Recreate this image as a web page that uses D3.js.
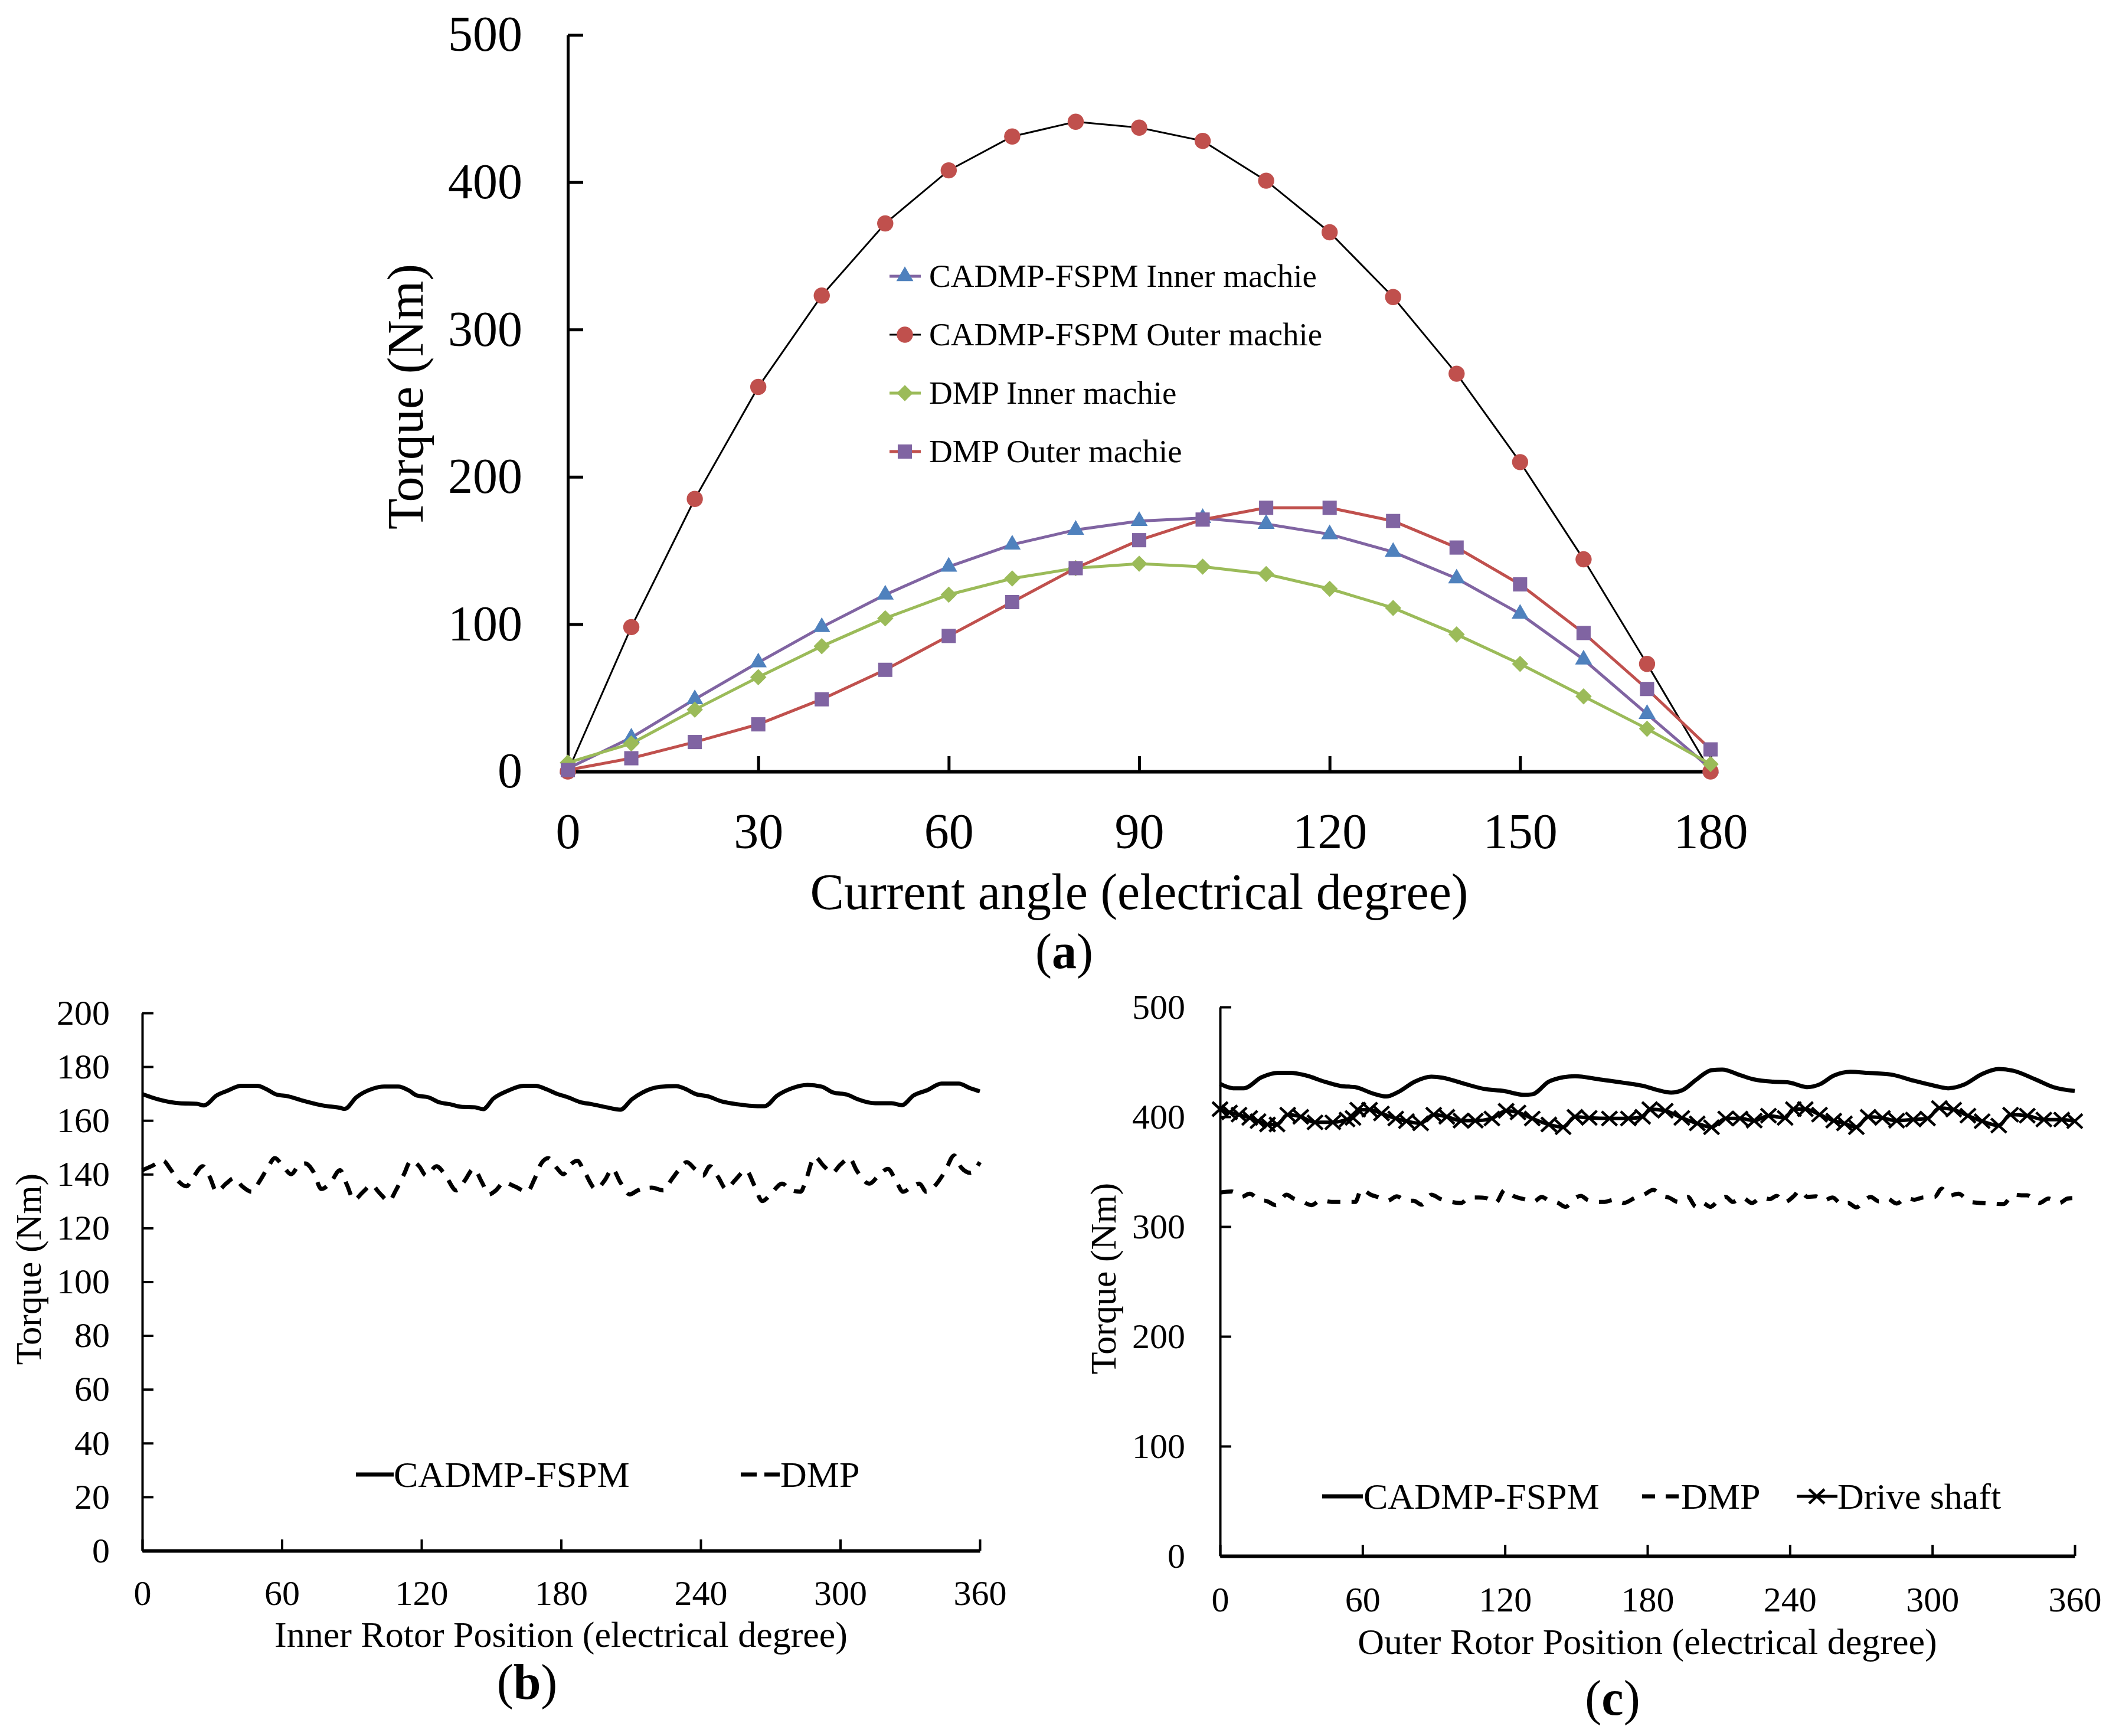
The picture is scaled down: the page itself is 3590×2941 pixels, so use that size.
<!DOCTYPE html>
<html>
<head>
<meta charset="utf-8">
<script src="https://cdn.jsdelivr.net/npm/d3@7/dist/d3.min.js"></script>
<style>
  body { margin: 0; background: #fff; }
  svg, svg text { font-family: "Liberation Serif", "Times New Roman", Times, "DejaVu Serif", serif; fill: #000; }
</style>
</head>
<body>
<div id="chart"></div>
<script>
//Panel (a) data: torque vs current angle
var angleA = [0, 10, 20, 30, 40, 50, 60, 70, 80, 90, 100, 110, 120, 130, 140, 150, 160, 170, 180];
var cadmpInnerA = [2, 23, 49, 74, 98, 120, 139, 154, 164, 170, 172, 168, 161, 149, 131, 107, 76, 39, 2];
var cadmpOuterA = [0, 98, 185, 261, 323, 372, 408, 431, 441, 437, 428, 401, 366, 322, 270, 210, 144, 73, 0];
var dmpInnerA = [6, 19, 42, 64, 85, 104, 120, 131, 138, 141, 139, 134, 124, 111, 93, 73, 51, 29, 5];
var dmpOuterA = [1, 9, 20, 32, 49, 69, 92, 115, 138, 157, 171, 179, 179, 170, 152, 127, 94, 56, 15];
var xTicksA = [0, 30, 60, 90, 120, 150, 180];
var yTicksA = [0, 100, 200, 300, 400, 500];
var legendA = ["CADMP-FSPM Inner machie", "CADMP-FSPM Outer machie", "DMP Inner machie", "DMP Outer machie"];

//Panel (b) data: inner rotor torque
var cadmpAngleB = [0, 7, 16, 23.5, 26.5, 32, 36.5, 42.5, 49.5, 53, 57.5, 62.5, 68.5, 78, 85, 87, 92, 99, 104, 110,
  114.5, 118, 123, 127.5, 132.5, 137, 143, 146.5, 151, 157, 164, 169, 174, 178, 183, 188, 193.5, 199.5, 205.5, 210.5,
  215, 222.5, 229.5, 233, 238, 243, 249, 256, 264.5, 267.5, 273, 279, 286, 292, 297, 303, 307.5, 315, 322, 326.5,
  331.5, 337.5, 343.5, 351, 355.5, 360];
var cadmpTorqueB = [169.8, 167.8, 166.4, 166.2, 165.6, 169.3, 171, 172.9, 172.9, 171.8, 169.7, 169, 167.5, 165.5, 164.7, 164.3, 168.6, 171.8, 172.6, 172.6,
  171.2, 169.3, 168.6, 166.8, 166, 165.1, 164.9, 164.2, 168.2, 171, 172.9, 172.9, 171.5, 170, 168.6, 166.9, 166, 164.9, 164, 167.9,
  170.4, 172.5, 172.8, 171.9, 169.8, 169, 167.1, 166, 165.3, 165.3, 169.3, 171.9, 173.2, 172.6, 170.4, 169.6, 167.9, 166.4, 166.4, 165.7,
  169.3, 171.3, 173.7, 173.7, 172.1, 170.8];
var dmpAngleB = [0, 4, 9, 12, 16, 19, 22, 26, 29, 32, 36, 39.5, 43, 47, 50.5, 54, 57, 60.5, 64, 67, 70, 73.5, 77, 81, 85,
  88, 91, 95, 98.5, 102, 106, 109, 112.5, 115.5, 119, 122, 126.5, 130, 135, 138.5, 142.5, 146, 149, 152, 155.5, 160,
  165.5, 168.5, 171.5, 174.5, 178, 181, 184, 187, 190, 195, 199, 202, 205.5, 209.5, 213, 219, 224, 227.5, 231, 234,
  237.5, 241, 244, 247.5, 251, 255, 259.5, 263, 266.5, 270.5, 275, 279, 283, 285.5, 289, 293, 296.5, 300, 304, 307,
  312.5, 317, 320.5, 324, 327, 331, 334, 337, 341, 345, 349, 352, 356, 360];
var dmpTorqueB = [141.5, 143, 145, 142, 137, 135.5, 139, 143, 139, 133.5, 136.5, 138.5, 135.5, 133.5, 137.5, 142.5, 146, 143, 140, 143, 144, 141, 134.5, 137, 141.5,
  136, 130.5, 133.5, 136, 133, 130, 134, 140, 145, 143, 139.5, 143, 140, 134, 137.5, 142, 137, 132.5, 134, 137, 135.5,
  133.5, 138, 144, 146, 142.5, 140, 143.5, 145, 141, 134.5, 138, 142, 137, 132.5, 134, 135, 134, 138, 142, 144.5,
  142, 139.5, 143, 139, 134.5, 138, 141.5, 136, 130, 133, 136.5, 134, 133.5, 138.5, 146.5, 143, 140.5, 143.5, 146, 141.5,
  136.5, 140, 142, 137.5, 133.5, 135.5, 136.5, 133.5, 136, 141, 147, 142.5, 140.5, 144.5];
var xTicksB = [0, 60, 120, 180, 240, 300, 360];
var yTicksB = [0, 20, 40, 60, 80, 100, 120, 140, 160, 180, 200];
var legendB = ["CADMP-FSPM", "DMP"];

//Panel (c) data: outer rotor torque
var cadmpAngleC = [0, 5.5, 10, 17.5, 24.5, 29.5, 36.5, 44, 51, 57, 64, 70, 75, 82, 89, 94, 101.5, 111, 119.5, 128,
  131.5, 138.5, 144.5, 149.5, 160, 170, 178.5, 184, 190, 194.5, 201, 207, 211.5, 219, 225, 233, 239, 247.5, 252.5,
  258.5, 265.5, 273, 282.5, 292, 300.5, 306.5, 313.5, 321, 328, 334, 343.5, 351, 360];
var cadmpTorqueC = [430, 426, 426, 436, 440, 440, 437.5, 432, 428, 427, 421.5, 418.5, 422.5, 432, 436.5, 435.5, 431, 425.5, 423.5, 420,
  420.5, 432, 436, 437, 434, 431, 428, 424.5, 422, 424, 434.5, 442.5, 443, 438, 434, 432, 431.5, 427, 429.5,
  437.5, 441, 440, 438.5, 433, 428.5, 426, 429.5, 439, 443.5, 442, 434, 427, 423.5];
var dmpAngleC = [0, 5, 9, 12.5, 16, 20, 23.5, 28, 31, 34.5, 38.5, 42.5, 47, 52, 57, 59.5, 63.5, 67, 70.5, 74.5, 78.5,
  81.5, 85, 89, 93, 97.5, 101.5, 105, 109, 112, 116, 120, 123.5, 128, 132, 135.5, 139, 142, 145.5, 149.5, 152, 155,
  159, 162, 166, 170, 175, 178.5, 182.5, 186, 189, 193, 197, 200.5, 203, 206.5, 210.5, 213, 216, 220, 224, 228,
  231.5, 234.5, 237.5, 242, 244, 247.5, 251, 254, 258, 262, 264.5, 268, 271.5, 274, 277.5, 281, 285, 289, 292.5,
  296, 301, 304, 307, 311, 316, 320.5, 325, 330, 334, 337.5, 340, 345, 349, 353.5, 357, 360];
var dmpTorqueC = [331, 332, 327, 330, 325, 323, 319.5, 329, 325.5, 323, 319.5, 324, 322.5, 322.5, 322.5, 334, 329, 326.5, 323.5, 327.5, 323.5,
  323.5, 320, 329, 325, 322.5, 321.5, 326.5, 326.5, 326, 321.5, 333.5, 328, 325, 322.5, 327, 323, 322, 318, 326, 328, 324,
  322.5, 322.5, 324.5, 321.5, 326.5, 329, 333.5, 328, 326.5, 322.5, 327, 318, 322, 318, 325, 327, 322.5, 326.5, 321.5, 326.5,
  325, 328, 322, 328.5, 333, 327, 327.5, 323.5, 326.5, 320, 321.5, 317.5, 324, 327, 323, 325.5, 321, 326, 324.5,
  326.5, 327, 334.5, 328, 330, 322.5, 321.5, 321, 320.5, 329, 328.5, 328.5, 321.5, 325.5, 321.5, 325.5, 326];
var shaftAngleC = [0, 4, 8, 12.5, 16, 20, 24, 28.5, 34, 40, 47.5, 53.5, 56, 58, 63, 68, 74, 78.5, 84.5, 90, 95.5,
  101.5, 107.5, 114.5, 120.5, 125.5, 131.5, 138.5, 144.5, 149.5, 155.5, 164, 172, 178, 181, 187.5, 194.5, 201, 207,
  213, 219, 225, 231, 238, 241.5, 246.5, 252.5, 258.5, 263, 268, 273, 279, 285, 292, 298, 303, 309, 315, 321, 328,
  333, 340, 347, 354.5, 360];
var shaftTorqueC = [407, 404, 402, 399, 396, 393, 393, 402, 400, 395, 395, 397.5, 399, 406.5, 406.5, 403, 398.5, 396, 394, 402, 400,
  396.5, 396.5, 398.5, 405.5, 404, 398.5, 393, 390.5, 400, 399, 398.5, 398.5, 400, 407, 405.5, 399, 394, 390.5,
  398.5, 398.5, 396.5, 401, 399, 407, 407, 402, 396.5, 394, 390.5, 400, 399, 396.5, 397.5, 398.5, 408, 406.5, 401, 396, 392,
  402, 401, 397.5, 397.5, 396];
var xTicksC = [0, 60, 120, 180, 240, 300, 360];
var yTicksC = [0, 100, 200, 300, 400, 500];
var legendC = ["CADMP-FSPM", "DMP", "Drive shaft"];

var FONT = "Liberation Serif, Times New Roman, Times, DejaVu Serif, serif";

//Canvas
var svg = d3.select("#chart").append("svg")
    .attr("width", 3590)
    .attr("height", 2941)
    .attr("font-family", FONT)
    .style("font-family", FONT);
svg.append("rect").attr("width", 3590).attr("height", 2941).attr("fill", "#fff");

//every text gets the serif face inline
function txt(parent, size) {
  return parent.append("text")
    .style("font-family", FONT)
    .style("font-size", size + "px")
    .attr("fill", "#000");
}

//Axis helper: ticks point inward on both axes
function drawAxes(x, y, xt, yt, o) {
  var gx = svg.append("g")
      .attr("transform", "translate(0," + y(0) + ")")
      .call(d3.axisBottom(x).tickValues(xt).tickSizeInner(-o.tick).tickSizeOuter(0).tickPadding(o.xPad));
  var gy = svg.append("g")
      .attr("transform", "translate(" + x(0) + ",0)")
      .call(d3.axisLeft(y).tickValues(yt).tickSizeInner(-o.tick).tickSizeOuter(0).tickPadding(o.yPad));
  [gx, gy].forEach(function(g) {
    g.attr("font-family", FONT).attr("font-size", o.font);
    g.selectAll(".tick line").attr("stroke", "#000").attr("stroke-width", o.tickW);
    g.selectAll("text").attr("fill", "#000")
      .style("font-family", FONT).style("font-size", o.font + "px");
  });
  gx.select(".domain").attr("stroke", "#000").attr("stroke-width", o.xW);
  gy.select(".domain").attr("stroke", "#000").attr("stroke-width", o.yW);
}

function caption(cx, cy, letter) {
  var t = txt(svg, 84)
    .attr("x", cx).attr("y", cy)
    .attr("text-anchor", "middle");
  t.append("tspan").text("(");
  t.append("tspan").style("font-weight", "bold").text(letter);
  t.append("tspan").text(")");
}

//----- Panel (a)
var xA = d3.scaleLinear().domain([0, 180]).range([962, 2898]);
var yA = d3.scaleLinear().domain([0, 500]).range([1307, 59]);
drawAxes(xA, yA, xTicksA, yTicksA, {tick: 26, xPad: 70, yPad: 77, font: 84, tickW: 5, xW: 6, yW: 5});

txt(svg, 86)
  .attr("x", (xA(0) + xA(180)) / 2).attr("y", 1540)
  .attr("text-anchor", "middle")
  .text("Current angle (electrical degree)");
txt(svg, 86)
  .attr("transform", "translate(716,672) rotate(-90)")
  .attr("text-anchor", "middle")
  .text("Torque (Nm)");
caption(1803, 1640, "a");

var diamond = {draw: function(ctx, size) {
  var r = Math.sqrt(size / 2);
  ctx.moveTo(0, -r); ctx.lineTo(r, 0); ctx.lineTo(0, r); ctx.lineTo(-r, 0); ctx.closePath();
}};

var seriesA = [
  {label: legendA[0], values: cadmpInnerA, line: "#8064A2", fill: "#4F81BD", symbol: d3.symbolTriangle, size: 360, lw: 5},
  {label: legendA[1], values: cadmpOuterA, line: "#000000", fill: "#C0504D", symbol: d3.symbolCircle, size: 590, lw: 3},
  {label: legendA[2], values: dmpInnerA, line: "#9BBB59", fill: "#9BBB59", symbol: diamond, size: 380, lw: 5},
  {label: legendA[3], values: dmpOuterA, line: "#C0504D", fill: "#8064A2", symbol: d3.symbolSquare, size: 580, lw: 5}
];

var lineA = d3.line()
    .x(function(d, i) { return xA(angleA[i]); })
    .y(function(d) { return yA(d); });

seriesA.forEach(function(s) {
  svg.append("path")
    .attr("d", lineA(s.values))
    .attr("fill", "none")
    .attr("stroke", s.line)
    .attr("stroke-width", s.lw);
  svg.selectAll(null)
    .data(s.values)
    .enter().append("path")
    .attr("transform", function(d, i) { return "translate(" + xA(angleA[i]) + "," + yA(d) + ")"; })
    .attr("d", d3.symbol().type(s.symbol).size(s.size))
    .attr("fill", s.fill);
});

//Legend (a)
var legA = svg.selectAll(".legA")
  .data(seriesA)
  .enter().append("g")
  .attr("class", "legA")
  .attr("transform", function(d, i) { return "translate(0," + (468 + i * 99) + ")"; });
legA.append("line")
  .attr("x1", 1507).attr("x2", 1560)
  .attr("stroke", function(d) { return d.line; })
  .attr("stroke-width", function(d) { return d.lw; });
legA.append("path")
  .attr("transform", "translate(1533,0)")
  .attr("d", function(d) { return d3.symbol().type(d.symbol).size(d.size)(); })
  .attr("fill", function(d) { return d.fill; });
legA.each(function(d) {
  txt(d3.select(this), 55).attr("x", 1574).attr("y", 18).text(d.label);
});

//----- Panel (b)
var xB = d3.scaleLinear().domain([0, 360]).range([241, 1660]);
var yB = d3.scaleLinear().domain([0, 200]).range([2627, 1716]);
drawAxes(xB, yB, xTicksB, yTicksB, {tick: 19, xPad: 49, yPad: 55, font: 60, tickW: 4, xW: 6, yW: 4});

txt(svg, 62)
  .attr("x", (xB(0) + xB(360)) / 2).attr("y", 2790)
  .attr("text-anchor", "middle")
  .text("Inner Rotor Position (electrical degree)");
txt(svg, 62)
  .attr("transform", "translate(69,2150) rotate(-90)")
  .attr("text-anchor", "middle")
  .text("Torque (Nm)");
caption(893, 2878, "b");

var lineB = d3.line().curve(d3.curveMonotoneX)
    .x(function(d) { return xB(d[0]); })
    .y(function(d) { return yB(d[1]); });

svg.append("path")
  .attr("d", lineB(d3.zip(cadmpAngleB, cadmpTorqueB)))
  .attr("fill", "none").attr("stroke", "#000").attr("stroke-width", 7);
svg.append("path")
  .attr("d", lineB(d3.zip(dmpAngleB, dmpTorqueB)))
  .attr("fill", "none").attr("stroke", "#000").attr("stroke-width", 7)
  .attr("stroke-dasharray", "24,17");

//Legend (b)
svg.append("line").attr("x1", 603).attr("x2", 667).attr("y1", 2498).attr("y2", 2498)
  .attr("stroke", "#000").attr("stroke-width", 7);
txt(svg, 62).attr("x", 667).attr("y", 2519).text(legendB[0]);
svg.append("line").attr("x1", 1255).attr("x2", 1321).attr("y1", 2498).attr("y2", 2498)
  .attr("stroke", "#000").attr("stroke-width", 7).attr("stroke-dasharray", "27,13");
txt(svg, 62).attr("x", 1322).attr("y", 2519).text(legendB[1]);

//----- Panel (c)
var xC = d3.scaleLinear().domain([0, 360]).range([2067, 3515]);
var yC = d3.scaleLinear().domain([0, 500]).range([2636, 1706]);
drawAxes(xC, yC, xTicksC, yTicksC, {tick: 19, xPad: 51, yPad: 59, font: 60, tickW: 4, xW: 6, yW: 4});

txt(svg, 62)
  .attr("x", (xC(0) + xC(360)) / 2).attr("y", 2802)
  .attr("text-anchor", "middle")
  .text("Outer Rotor Position (electrical degree)");
txt(svg, 62)
  .attr("transform", "translate(1890,2166) rotate(-90)")
  .attr("text-anchor", "middle")
  .text("Torque (Nm)");
caption(2732, 2905, "c");

var lineC = d3.line().curve(d3.curveMonotoneX)
    .x(function(d) { return xC(d[0]); })
    .y(function(d) { return yC(d[1]); });

svg.append("path")
  .attr("d", lineC(d3.zip(cadmpAngleC, cadmpTorqueC)))
  .attr("fill", "none").attr("stroke", "#000").attr("stroke-width", 7);
svg.append("path")
  .attr("d", lineC(d3.zip(dmpAngleC, dmpTorqueC)))
  .attr("fill", "none").attr("stroke", "#000").attr("stroke-width", 7)
  .attr("stroke-dasharray", "22,19");

//Drive shaft: line with x markers
var cross = "M-13,-12L13,12M-13,12L13,-12";
svg.append("path")
  .attr("d", lineC(d3.zip(shaftAngleC, shaftTorqueC)))
  .attr("fill", "none").attr("stroke", "#000").attr("stroke-width", 6);
svg.selectAll(".shaft")
  .data(d3.zip(shaftAngleC, shaftTorqueC))
  .enter().append("path")
  .attr("class", "shaft")
  .attr("transform", function(d) { return "translate(" + xC(d[0]) + "," + yC(d[1]) + ")"; })
  .attr("d", cross)
  .attr("stroke", "#000").attr("stroke-width", 4.5);

//Legend (c)
svg.append("line").attr("x1", 2240).attr("x2", 2309).attr("y1", 2535).attr("y2", 2535)
  .attr("stroke", "#000").attr("stroke-width", 7);
txt(svg, 62).attr("x", 2310).attr("y", 2556).text(legendC[0]);
svg.append("line").attr("x1", 2782).attr("x2", 2847).attr("y1", 2535).attr("y2", 2535)
  .attr("stroke", "#000").attr("stroke-width", 7).attr("stroke-dasharray", "22,18");
txt(svg, 62).attr("x", 2848).attr("y", 2556).text(legendC[1]);
svg.append("line").attr("x1", 3044).attr("x2", 3113).attr("y1", 2535).attr("y2", 2535)
  .attr("stroke", "#000").attr("stroke-width", 5);
svg.append("path").attr("transform", "translate(3078,2535)").attr("d", cross)
  .attr("stroke", "#000").attr("stroke-width", 4.5);
txt(svg, 62).attr("x", 3113).attr("y", 2556).text(legendC[2]);
</script>
</body>
</html>
